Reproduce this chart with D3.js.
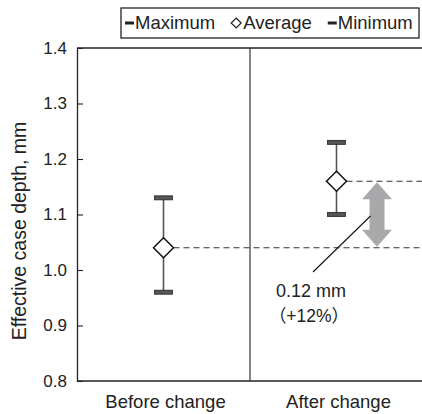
<!DOCTYPE html>
<html><head><meta charset="utf-8">
<script src="https://cdn.jsdelivr.net/npm/d3@7"></script>
<style>body{margin:0;background:#fff}svg{display:block}text{font-family:"Liberation Sans",Arial,"Noto Sans CJK JP",sans-serif;fill:#222}</style>
</head><body><svg id="c" width="422" height="414"></svg>
<script>
const categories = ["Before change", "After change"];
const maxVals = [1.13, 1.23];
const avgVals = [1.04, 1.16];
const minVals = [0.96, 1.10];
const yTicks = [0.8, 0.9, 1.0, 1.1, 1.2, 1.3, 1.4];
const legendItems = ["Maximum", "Average", "Minimum"];
const annotation = ["0.12 mm", "（+12%）"];

const svg = d3.select("#c");
const m = {l: 77, t: 48, r: 423, b: 381};
const x = d3.scaleBand().domain(categories).range([m.l, m.r]);
const y = d3.scaleLinear().domain([0.8, 1.4]).range([m.b, m.t]);
const cx = c => x(c) + x.bandwidth() / 2;

// frame lines
svg.append("line").attr("x1", m.l).attr("x2", m.r).attr("y1", m.t).attr("y2", m.t).attr("stroke", "#222").attr("stroke-width", 1.3);
svg.append("line").attr("x1", m.l).attr("x2", m.r).attr("y1", m.b).attr("y2", m.b).attr("stroke", "#222").attr("stroke-width", 1.3);
svg.append("line").attr("x1", x(categories[1])).attr("x2", x(categories[1])).attr("y1", m.t).attr("y2", m.b).attr("stroke", "#222").attr("stroke-width", 1.1);

// y axis
const ya = svg.append("g").attr("transform", `translate(${m.l},0)`)
  .call(d3.axisLeft(y).tickValues(yTicks).tickFormat(d3.format(".1f")).tickSizeInner(-6).tickSizeOuter(0).tickPadding(10));
ya.select(".domain").attr("stroke", "#222").attr("stroke-width", 1.3);
ya.selectAll(".tick line").attr("stroke", "#222").attr("stroke-width", 1.1);
ya.selectAll(".tick text").attr("font-size", 17).style("font-family", '"Liberation Sans",Arial,sans-serif').attr("fill", "#222");

// x labels
svg.selectAll(".xl").data(categories).join("text").attr("class", "xl")
  .attr("x", d => cx(d) + 2).attr("y", 408).attr("text-anchor", "middle").attr("font-size", 18.5).text(d => d);

// y title
svg.append("text").attr("transform", `translate(26,231) rotate(-90)`)
  .attr("text-anchor", "middle").attr("font-size", 19.5).text("Effective case depth, mm");

// dashed avg lines
svg.selectAll(".dl").data(categories).join("line").attr("class", "dl")
  .attr("x1", d => cx(d) + 10).attr("x2", m.r).attr("y1", (d, i) => y(avgVals[i])).attr("y2", (d, i) => y(avgVals[i]))
  .attr("stroke", "#333").attr("stroke-width", 1.1).attr("stroke-dasharray", "6,4");

// arrow between averages
const ax = 377, yTop = y(avgVals[1]) + 1, yBot = y(avgVals[0]) - 1, hw = 15, sw = 7.5, hh = 17;
svg.append("path").attr("fill", "#a9a9ab")
  .attr("d", `M${ax},${yTop} L${ax + hw},${yTop + hh} L${ax + sw},${yTop + hh} L${ax + sw},${yBot - hh} L${ax + hw},${yBot - hh} L${ax},${yBot} L${ax - hw},${yBot - hh} L${ax - sw},${yBot - hh} L${ax - sw},${yTop + hh} L${ax - hw},${yTop + hh} Z`);

// leader line
svg.append("line").attr("x1", 313).attr("y1", 272).attr("x2", ax - sw + 1).attr("y2", 216).attr("stroke", "#111").attr("stroke-width", 1.1);

// annotation text
svg.append("text").attr("x", 311).attr("y", 297).attr("text-anchor", "middle").attr("font-size", 18).text(annotation[0]);
svg.append("text").attr("x", 309).attr("y", 322).attr("text-anchor", "middle").attr("font-size", 17.5).text(annotation[1]);

// error bars
const g = svg.selectAll(".eb").data(categories).join("g").attr("class", "eb");
g.append("line").attr("x1", d => cx(d)).attr("x2", d => cx(d))
  .attr("y1", (d, i) => y(maxVals[i])).attr("y2", (d, i) => y(minVals[i])).attr("stroke", "#555").attr("stroke-width", 1.6);
[maxVals, minVals].forEach(arr => {
  g.append("rect").attr("x", d => cx(d) - 9).attr("width", 18).attr("height", 4)
    .attr("y", (d, i) => y(arr[i]) - 2).attr("fill", "#555").attr("stroke", "#222").attr("stroke-width", 0.8);
});
g.append("path").attr("d", (d, i) => { const X = cx(d), Y = y(avgVals[i]); return `M${X},${Y - 10} L${X + 10},${Y} L${X},${Y + 10} L${X - 10},${Y} Z`; })
  .attr("fill", "#fff").attr("stroke", "#111").attr("stroke-width", 1.5);

// legend
const lg = svg.append("g");
lg.append("rect").attr("x", 121).attr("y", 8).attr("width", 298).attr("height", 30).attr("fill", "#fff").attr("stroke", "#222").attr("stroke-width", 1.3);
let lx = 125;
legendItems.forEach((t, i) => {
  if (i === 1) {
    lg.append("path").attr("d", `M${lx + 5},${18} L${lx + 10},${23} L${lx + 5},${28} L${lx},${23} Z`).attr("fill", "#fff").attr("stroke", "#222").attr("stroke-width", 1.2);
    lx += 12;
  } else {
    lg.append("rect").attr("x", lx).attr("y", 21.5).attr("width", 9).attr("height", 3).attr("fill", "#222");
    lx += 10;
  }
  const tx = lg.append("text").attr("x", lx).attr("y", 29).attr("font-size", 18.5).text(t);
  lx += tx.node().getComputedTextLength() + 16;
});
</script></body></html>
